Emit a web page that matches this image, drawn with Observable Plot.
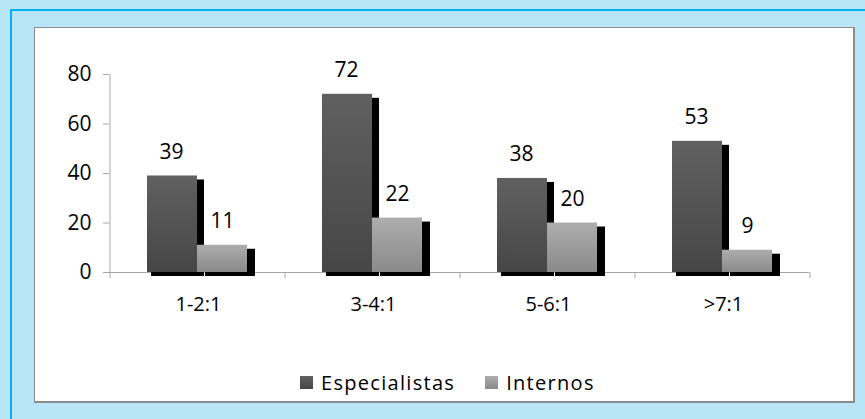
<!DOCTYPE html>
<html><head><meta charset="utf-8">
<script src="https://cdn.jsdelivr.net/npm/d3@7"></script>
<script src="https://cdn.jsdelivr.net/npm/@observablehq/plot@0.6"></script>
<style>
body{margin:0;}
#wrap{position:relative;width:865px;height:419px;background:#b9e5f9;overflow:hidden;font-family:"Open Sans",sans-serif;}
#bl{position:absolute;left:10px;top:9px;width:2px;height:410px;background:#00b0f0}
#bt{position:absolute;left:10px;top:9px;width:855px;height:2px;background:#00b0f0}
#panel{position:absolute;left:34px;top:27px;width:818px;height:373px;background:#fff;border:1px solid #8c8c8c;border-right-width:2px;border-bottom-width:2px}
#chart{position:absolute;left:0;top:0}
#legend{position:absolute;top:369px;left:300px;height:26px;display:flex;align-items:center;font-size:20px;letter-spacing:1.3px;color:#000}
.sw{display:inline-block;width:13px;height:13px;margin-right:8px}
</style></head>
<body>
<div id="wrap">
<div id="bl"></div><div id="bt"></div>
<div id="panel"></div>
<div id="chart"></div>
<div id="legend"></div>
</div>
<script>
const categories = ["1-2:1", "3-4:1", "5-6:1", ">7:1"];
const especialistas = [39, 72, 38, 53];
const internos = [11, 22, 20, 9];
const seriesNames = ["Especialistas", "Internos"];
const yTicks = [0, 20, 40, 60, 80];

const data = categories.map((c, i) => ({cat: c, esp: especialistas[i], int: internos[i]}));

const defsMark = () => {
  const ns = "http://www.w3.org/2000/svg";
  const defs = document.createElementNS(ns, "defs");
  defs.innerHTML = `<linearGradient id="gDark" x1="0" y1="0" x2="0" y2="1"><stop offset="0" stop-color="#606060"/><stop offset="1" stop-color="#464646"/></linearGradient>
  <linearGradient id="gLight" x1="0" y1="0" x2="0" y2="1"><stop offset="0" stop-color="#adadad"/><stop offset="1" stop-color="#8a8a8a"/></linearGradient>`;
  return defs;
};

const axisGray = "#a6a6a6";
const chart = Plot.plot({
  width: 865, height: 340,
  marginLeft: 109, marginRight: 56, marginTop: 74, marginBottom: 68,
  style: {background: "transparent", fontFamily: "'Open Sans', sans-serif", fontSize: "20px", color: "#000", overflow: "visible"},
  x: {domain: categories, paddingInner: 3/7, paddingOuter: 3/14},
  y: {domain: [0, 80]},
  marks: [
    defsMark,
    Plot.ruleY([0], {stroke: axisGray, strokeWidth: 1}),
    Plot.ruleX([categories[0]], {y1: 0, y2: yTicks[yTicks.length - 1], dx: -87.5, stroke: axisGray}),
    Plot.axisY({ticks: yTicks, tickSize: 6, tickPadding: 12, stroke: axisGray, fill: "#000", fontSize: 21, label: null}),
    Plot.axisX({tickSize: 6, tickFormat: () => "", dx: -87.5, stroke: axisGray, label: null}),
    Plot.axisX({ticks: [categories[categories.length - 1]], tickSize: 6, tickFormat: () => "", dx: 87.5, stroke: axisGray, label: null}),
    Plot.axisX({tickSize: 0, tickPadding: 24, fontSize: 20, fill: "#000", label: null, dx: 1}),
    Plot.barY(data, {x: "cat", y: "esp", insetRight: 50, insetLeft: -3, dx: 7, dy: 4, fill: "#000"}),
    Plot.barY(data, {x: "cat", y: "int", insetLeft: 50, dx: 8, dy: 4, fill: "#000"}),
    Plot.barY(data, {x: "cat", y: "esp", insetRight: 50, fill: "url(#gDark)"}),
    Plot.barY(data, {x: "cat", y: "int", insetLeft: 50, fill: "url(#gLight)"}),
    Plot.text(data, {x: "cat", y: "esp", text: d => String(d.esp), dx: -26, dy: -17, lineAnchor: "bottom", fontSize: 21, fill: "#000"}),
    Plot.text(data, {x: "cat", y: "int", text: d => String(d.int), dx: 25, dy: -17, lineAnchor: "bottom", fontSize: 21, fill: "#000"})
  ]
});
document.getElementById("chart").appendChild(chart);

const grads = ["linear-gradient(#606060,#464646)", "linear-gradient(#adadad,#8a8a8a)"];
const legend = document.getElementById("legend");
seriesNames.forEach((s, i) => {
  const item = document.createElement("span");
  item.style.display = "inline-flex";
  item.style.alignItems = "center";
  item.style.marginRight = i === 0 ? "30px" : "0";
  item.innerHTML = `<span class="sw" style="background:${grads[i]}"></span><span>${s}</span>`;
  legend.appendChild(item);
});
</script>
</body></html>
